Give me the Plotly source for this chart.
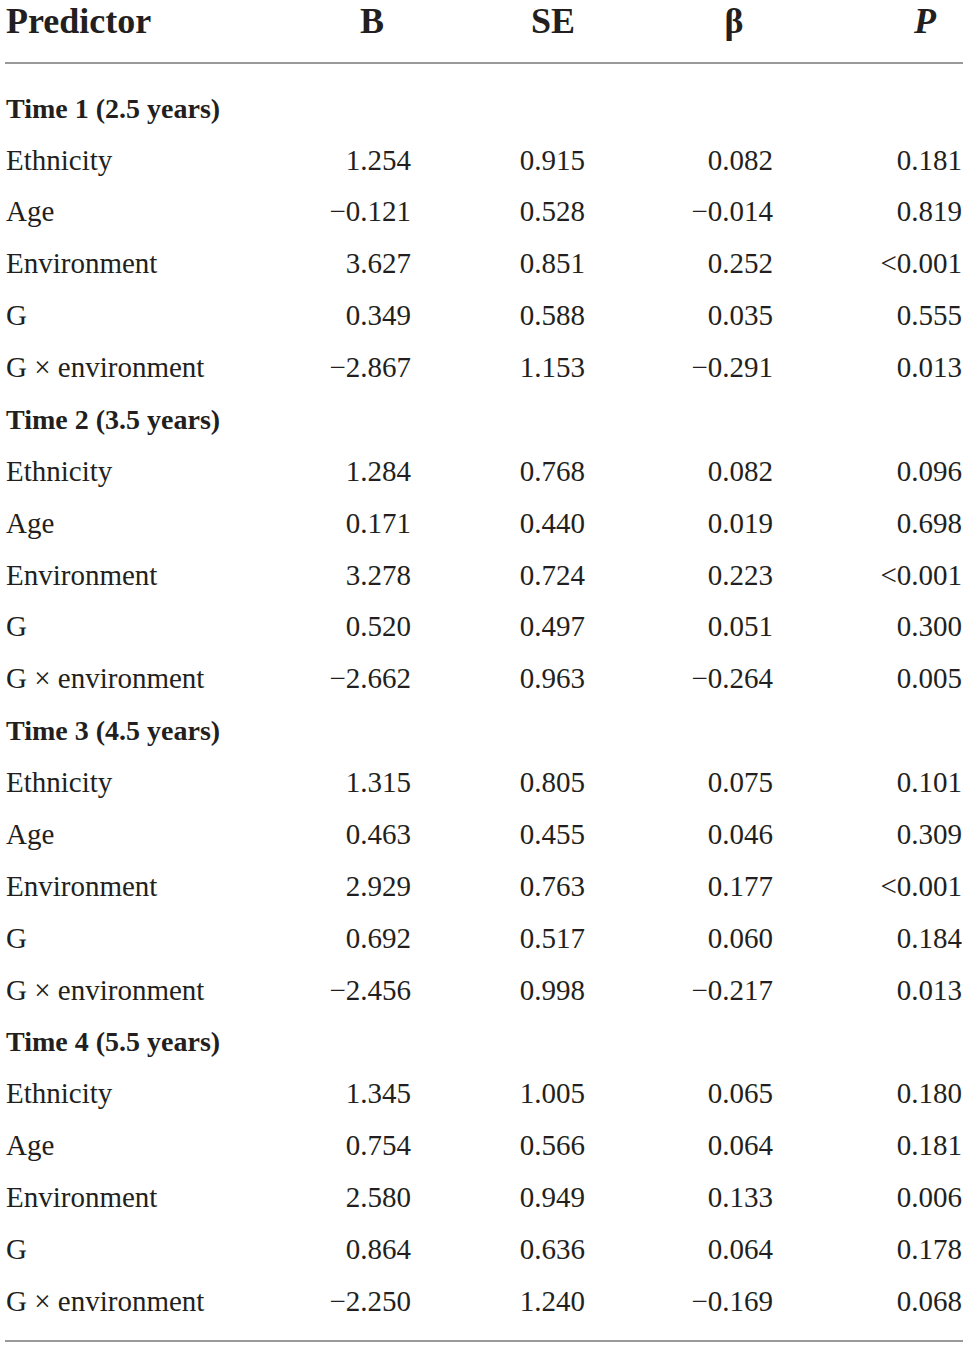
import plotly.graph_objects as go

# table content
headers = ["Predictor", "B", "SE", "β", "<i>P</i>"]
sections = ["Time 1 (2.5 years)", "Time 2 (3.5 years)", "Time 3 (4.5 years)", "Time 4 (5.5 years)"]
predictors = ["Ethnicity", "Age", "Environment", "G", "G × environment"]

b_vals = [
    [1.254, -0.121, 3.627, 0.349, -2.867],
    [1.284, 0.171, 3.278, 0.520, -2.662],
    [1.315, 0.463, 2.929, 0.692, -2.456],
    [1.345, 0.754, 2.580, 0.864, -2.250],
]
se_vals = [
    [0.915, 0.528, 0.851, 0.588, 1.153],
    [0.768, 0.440, 0.724, 0.497, 0.963],
    [0.805, 0.455, 0.763, 0.517, 0.998],
    [1.005, 0.566, 0.949, 0.636, 1.240],
]
beta_vals = [
    [0.082, -0.014, 0.252, 0.035, -0.291],
    [0.082, 0.019, 0.223, 0.051, -0.264],
    [0.075, 0.046, 0.177, 0.060, -0.217],
    [0.065, 0.064, 0.133, 0.064, -0.169],
]
p_vals = [
    ["0.181", "0.819", "<0.001", "0.555", "0.013"],
    ["0.096", "0.698", "<0.001", "0.300", "0.005"],
    ["0.101", "0.309", "<0.001", "0.184", "0.013"],
    ["0.180", "0.181", "0.006", "0.178", "0.068"],
]

W, H = 968, 1348
FONT = "Liberation Serif"
INK = "#231f20"
RULE = "#9a9a9a"

left_x = 6
header_x = [left_x, 372, 553, 734, 925]
right_x = [411, 585, 773, 962]
header_y = 24
first_row_y = 110.5
row_step = 51.87


def fmt(v):
    return f"{v:.3f}".replace("-", "\u2212")


labels, label_y, label_size = [], [], []
num_cols = [[], [], [], []]
num_y = []
r = 0
for s, sec in enumerate(sections):
    y = first_row_y + r * row_step
    labels.append("<b>" + sec + "</b>")
    label_y.append(y)
    label_size.append(28)
    r += 1
    for i, pred in enumerate(predictors):
        y = first_row_y + r * row_step
        labels.append(pred)
        label_y.append(y)
        label_size.append(29)
        num_y.append(y)
        num_cols[0].append(fmt(b_vals[s][i]))
        num_cols[1].append(fmt(se_vals[s][i]))
        num_cols[2].append(fmt(beta_vals[s][i]))
        num_cols[3].append(p_vals[s][i].replace("<", "&lt;"))
        r += 1

fig = go.Figure()

# header row
fig.add_trace(go.Scatter(
    x=[header_x[0]], y=[header_y], text=["<b>" + headers[0] + "</b>"],
    mode="text", textposition="middle right", cliponaxis=False,
    textfont=dict(family=FONT, size=36, color=INK), hoverinfo="skip",
))
fig.add_trace(go.Scatter(
    x=header_x[1:], y=[header_y] * 4, text=["<b>" + h + "</b>" for h in headers[1:]],
    mode="text", textposition="middle center", cliponaxis=False,
    textfont=dict(family=FONT, size=36, color=INK), hoverinfo="skip",
))

# predictor column
fig.add_trace(go.Scatter(
    x=[left_x] * len(labels), y=label_y, text=labels,
    mode="text", textposition="middle right", cliponaxis=False,
    textfont=dict(family=FONT, size=label_size, color=INK), hoverinfo="skip",
))

# numeric columns, right aligned
for c in range(4):
    fig.add_trace(go.Scatter(
        x=[right_x[c]] * len(num_y), y=num_y, text=num_cols[c],
        mode="text", textposition="middle left", cliponaxis=False,
        textfont=dict(family=FONT, size=29, color=INK), hoverinfo="skip",
    ))

# rules under the header and at the bottom
for y in [63, 1341]:
    fig.add_shape(type="line", x0=5, x1=963, y0=y, y1=y,
                  xref="x", yref="y", line=dict(color=RULE, width=2))

fig.update_layout(
    width=W, height=H,
    margin=dict(l=0, r=0, t=0, b=0),
    paper_bgcolor="white", plot_bgcolor="white",
    showlegend=False,
    xaxis=dict(range=[0, W], visible=False, fixedrange=True),
    yaxis=dict(range=[H, 0], visible=False, fixedrange=True),
)

fig.write_html(
    "out.html",
    config={"displayModeBar": False},
    post_script="document.body.style.margin='0';document.body.style.overflow='hidden';",
)
